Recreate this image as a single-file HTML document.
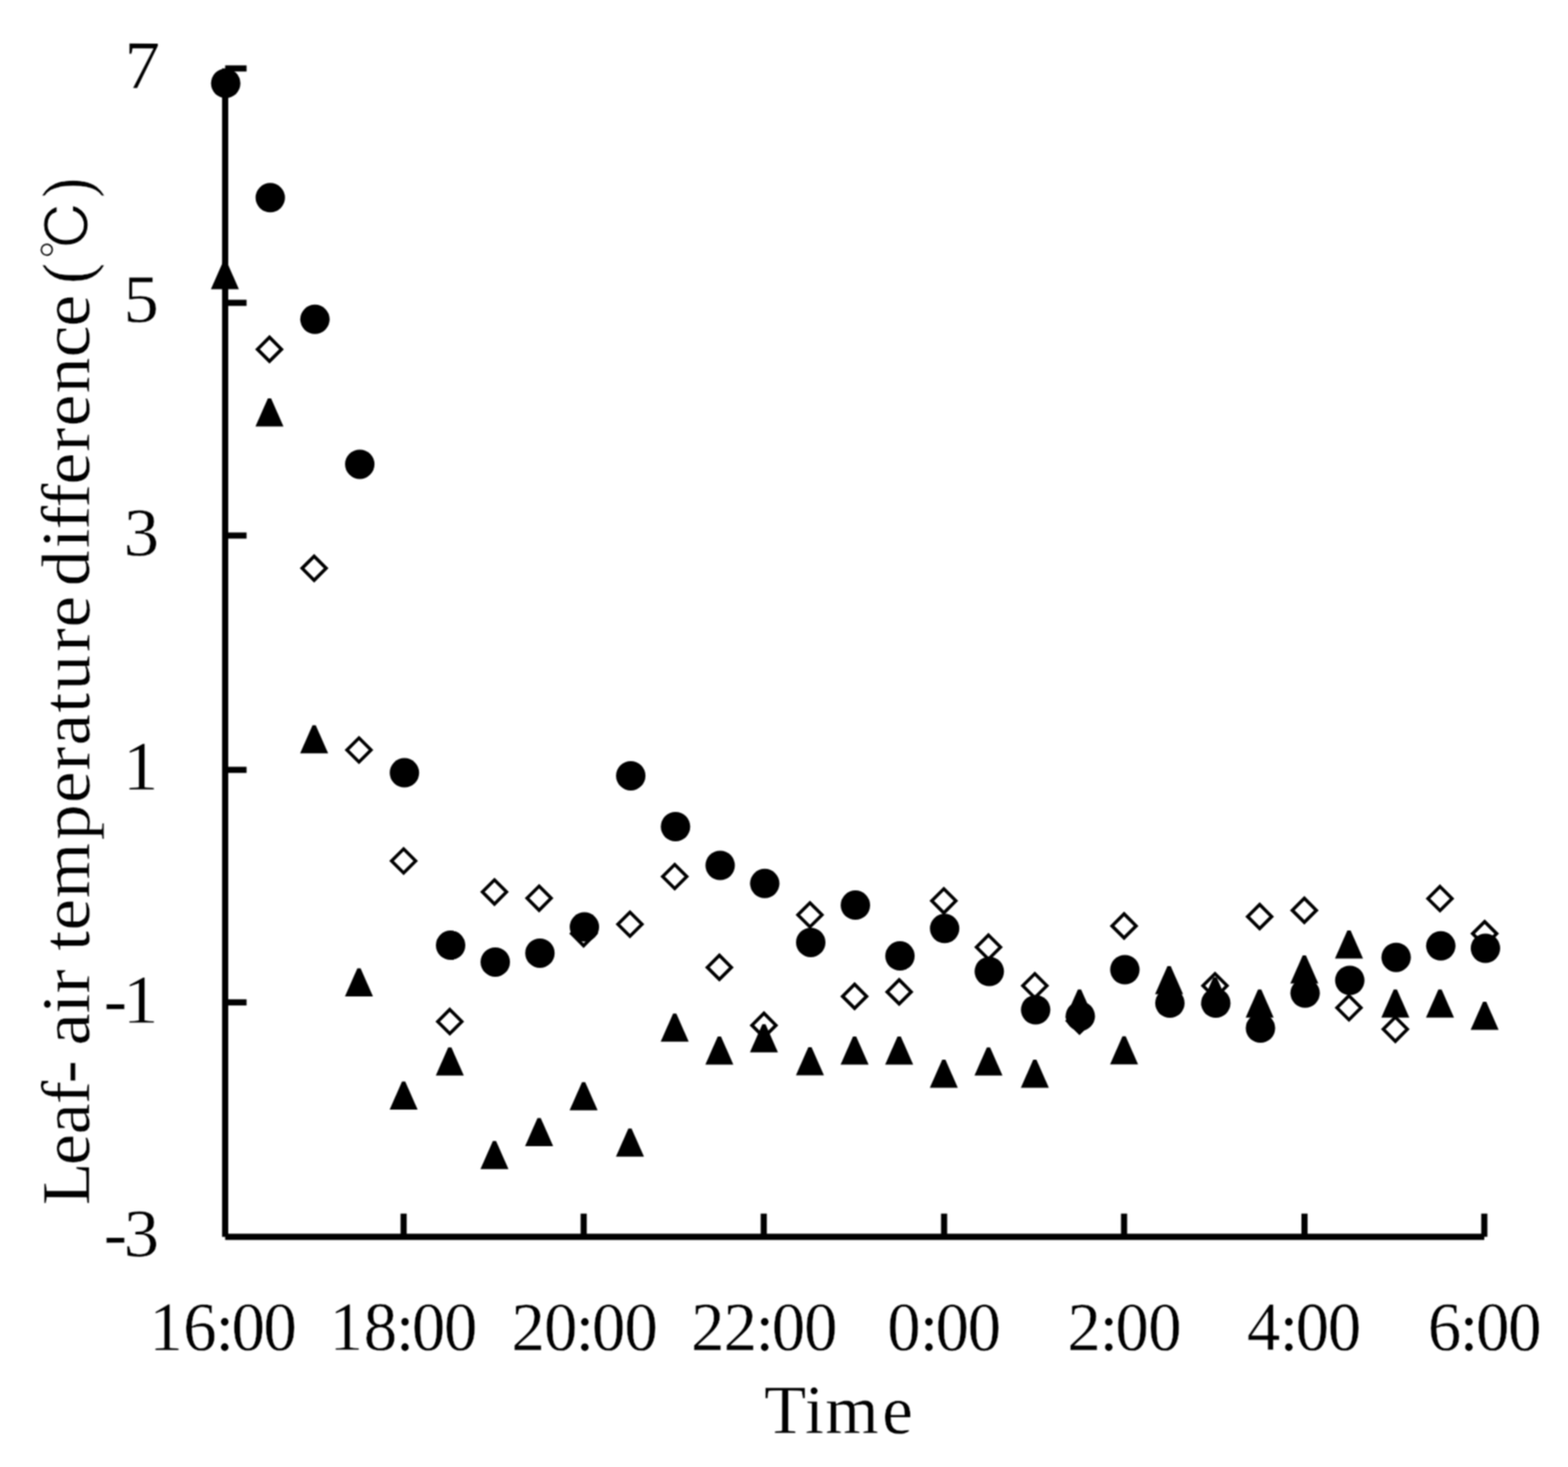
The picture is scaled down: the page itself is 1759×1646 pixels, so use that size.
<!DOCTYPE html>
<html lang="en"><head><meta charset="utf-8"><title>Leaf-air temperature difference</title>
<style>html,body{margin:0;padding:0;background:#fff}body{width:1759px;height:1646px;overflow:hidden}svg{display:block}text{font-family:"Liberation Serif",serif;fill:#000;font-kerning:none;font-variant-ligatures:none;text-rendering:geometricPrecision;stroke:#fff;stroke-width:0.4px}</style>
</head><body>
<svg width="1759" height="1646" viewBox="0 0 1759 1646">
<defs><filter id="soft" x="0" y="0" width="1759" height="1646" filterUnits="userSpaceOnUse" color-interpolation-filters="sRGB"><feConvolveMatrix order="3" kernelMatrix="1 2 1 2 4 2 1 2 1" divisor="16" edgeMode="duplicate" preserveAlpha="true"/></filter></defs>
<g filter="url(#soft)">
<rect width="1759" height="1646" fill="#fff"/>
<g id="axes" stroke="#000" stroke-width="6.9" fill="none">
<path d="M252.6 76.8 V1387.7"/>
<path d="M252.6 1387.7 H1665.1"/>
<path d="M252.6 76.8 H276.6"/>
<path d="M252.6 339.8 H276.6"/>
<path d="M252.6 600.9 H276.6"/>
<path d="M252.6 863.8 H276.6"/>
<path d="M252.6 1124.7 H276.6"/>
<path d="M452.8 1387.7 V1361.7"/>
<path d="M654.8 1387.7 V1361.7"/>
<path d="M856.8 1387.7 V1361.7"/>
<path d="M1059.1 1387.7 V1361.7"/>
<path d="M1261 1387.7 V1361.7"/>
<path d="M1463.4 1387.7 V1361.7"/>
<path d="M1665.1 1387.7 V1361.7"/>
</g>
<g id="diamonds" stroke="#000" stroke-width="3.7" fill="none" stroke-linejoin="miter">
<path d="M302.3 378.4 l13.5 13.5 l-13.5 13.5 l-13.5 -13.5z"/>
<path d="M352.4 624.1 l13.5 13.5 l-13.5 13.5 l-13.5 -13.5z"/>
<path d="M402.7 828 l13.5 13.5 l-13.5 13.5 l-13.5 -13.5z"/>
<path d="M452.8 952.5 l13.5 13.5 l-13.5 13.5 l-13.5 -13.5z"/>
<path d="M504.6 1132.7 l13.5 13.5 l-13.5 13.5 l-13.5 -13.5z"/>
<path d="M554.7 987.3 l13.5 13.5 l-13.5 13.5 l-13.5 -13.5z"/>
<path d="M604.8 994.3 l13.5 13.5 l-13.5 13.5 l-13.5 -13.5z"/>
<path d="M654.7 1034.1 l13.5 13.5 l-13.5 13.5 l-13.5 -13.5z"/>
<path d="M706.7 1023.5 l13.5 13.5 l-13.5 13.5 l-13.5 -13.5z"/>
<path d="M756.9 970 l13.5 13.5 l-13.5 13.5 l-13.5 -13.5z"/>
<path d="M807 1071.9 l13.5 13.5 l-13.5 13.5 l-13.5 -13.5z"/>
<path d="M857 1136.9 l13.5 13.5 l-13.5 13.5 l-13.5 -13.5z"/>
<path d="M908.6 1013 l13.5 13.5 l-13.5 13.5 l-13.5 -13.5z"/>
<path d="M958.7 1104.4 l13.5 13.5 l-13.5 13.5 l-13.5 -13.5z"/>
<path d="M1008.7 1099.4 l13.5 13.5 l-13.5 13.5 l-13.5 -13.5z"/>
<path d="M1058.8 997.3 l13.5 13.5 l-13.5 13.5 l-13.5 -13.5z"/>
<path d="M1108.9 1049.2 l13.5 13.5 l-13.5 13.5 l-13.5 -13.5z"/>
<path d="M1160.9 1092.5 l13.5 13.5 l-13.5 13.5 l-13.5 -13.5z"/>
<path d="M1211 1132 l13.5 13.5 l-13.5 13.5 l-13.5 -13.5z"/>
<path d="M1261 1025.4 l13.5 13.5 l-13.5 13.5 l-13.5 -13.5z"/>
<path d="M1363 1092.5 l13.5 13.5 l-13.5 13.5 l-13.5 -13.5z"/>
<path d="M1413.1 1014.9 l13.5 13.5 l-13.5 13.5 l-13.5 -13.5z"/>
<path d="M1463.2 1007.9 l13.5 13.5 l-13.5 13.5 l-13.5 -13.5z"/>
<path d="M1513.3 1117.2 l13.5 13.5 l-13.5 13.5 l-13.5 -13.5z"/>
<path d="M1565.3 1141.3 l13.5 13.5 l-13.5 13.5 l-13.5 -13.5z"/>
<path d="M1615.4 994.7 l13.5 13.5 l-13.5 13.5 l-13.5 -13.5z"/>
<path d="M1665.5 1034.1 l13.5 13.5 l-13.5 13.5 l-13.5 -13.5z"/>
</g>
<g id="triangles" fill="#000">
<path d="M250.5 293 h3.6 l13.9 31.5 h-31.4z"/>
<path d="M300.5 447 h3.6 l13.9 31.5 h-31.4z"/>
<path d="M350.6 813.7 h3.6 l13.9 31.5 h-31.4z"/>
<path d="M400.9 1086.6 h3.6 l13.9 31.5 h-31.4z"/>
<path d="M451 1213.4 h3.6 l13.9 31.5 h-31.4z"/>
<path d="M502.8 1175.3 h3.6 l13.9 31.5 h-31.4z"/>
<path d="M552.9 1280.2 h3.6 l13.9 31.5 h-31.4z"/>
<path d="M603 1254.4 h3.6 l13.9 31.5 h-31.4z"/>
<path d="M652.9 1214.3 h3.6 l13.9 31.5 h-31.4z"/>
<path d="M704.9 1266.3 h3.6 l13.9 31.5 h-31.4z"/>
<path d="M755.1 1137.2 h3.6 l13.9 31.5 h-31.4z"/>
<path d="M805.2 1163 h3.6 l13.9 31.5 h-31.4z"/>
<path d="M855.2 1149.2 h3.6 l13.9 31.5 h-31.4z"/>
<path d="M906.8 1175 h3.6 l13.9 31.5 h-31.4z"/>
<path d="M956.9 1163 h3.6 l13.9 31.5 h-31.4z"/>
<path d="M1006.9 1163 h3.6 l13.9 31.5 h-31.4z"/>
<path d="M1057 1189.1 h3.6 l13.9 31.5 h-31.4z"/>
<path d="M1107.1 1175.3 h3.6 l13.9 31.5 h-31.4z"/>
<path d="M1159.1 1189.1 h3.6 l13.9 31.5 h-31.4z"/>
<path d="M1209.2 1110.2 h3.6 l13.9 31.5 h-31.4z"/>
<path d="M1259.2 1162.8 h3.6 l13.9 31.5 h-31.4z"/>
<path d="M1309.7 1083.9 h3.6 l13.9 31.5 h-31.4z"/>
<path d="M1361.2 1096.4 h3.6 l13.9 31.5 h-31.4z"/>
<path d="M1411.3 1110.2 h3.6 l13.9 31.5 h-31.4z"/>
<path d="M1461.4 1072 h3.6 l13.9 31.5 h-31.4z"/>
<path d="M1511.5 1043.9 h3.6 l13.9 31.5 h-31.4z"/>
<path d="M1563.5 1110.2 h3.6 l13.9 31.5 h-31.4z"/>
<path d="M1613.6 1110.2 h3.6 l13.9 31.5 h-31.4z"/>
<path d="M1663.7 1124 h3.6 l13.9 31.5 h-31.4z"/>
</g>
<g id="circles" fill="#000">
<circle cx="253.2" cy="93.5" r="16.5"/>
<circle cx="303.2" cy="221.8" r="16.5"/>
<circle cx="353.3" cy="358.3" r="16.5"/>
<circle cx="403.6" cy="520.9" r="16.5"/>
<circle cx="453.7" cy="867.1" r="16.5"/>
<circle cx="505.5" cy="1060.6" r="16.5"/>
<circle cx="555.6" cy="1079.4" r="16.5"/>
<circle cx="605.7" cy="1069.4" r="16.5"/>
<circle cx="655.6" cy="1040.1" r="16.5"/>
<circle cx="707.6" cy="870.4" r="16.5"/>
<circle cx="757.8" cy="927.5" r="16.5"/>
<circle cx="807.9" cy="971" r="16.5"/>
<circle cx="857.9" cy="991.3" r="16.5"/>
<circle cx="909.5" cy="1057.4" r="16.5"/>
<circle cx="959.6" cy="1015.6" r="16.5"/>
<circle cx="1009.6" cy="1072.6" r="16.5"/>
<circle cx="1059.7" cy="1041.8" r="16.5"/>
<circle cx="1109.8" cy="1090" r="16.5"/>
<circle cx="1161.8" cy="1133" r="16.5"/>
<circle cx="1211.9" cy="1140.2" r="16.5"/>
<circle cx="1261.9" cy="1088" r="16.5"/>
<circle cx="1312.4" cy="1125.5" r="16.5"/>
<circle cx="1363.9" cy="1125.5" r="16.5"/>
<circle cx="1414" cy="1153.6" r="16.5"/>
<circle cx="1464.1" cy="1114.3" r="16.5"/>
<circle cx="1514.2" cy="1100" r="16.5"/>
<circle cx="1566.2" cy="1074.2" r="16.5"/>
<circle cx="1616.3" cy="1061.3" r="16.5"/>
<circle cx="1666.4" cy="1064" r="16.5"/>
</g>
<g id="xlabels">
<g transform="translate(252.10 1489.32) rotate(0.05) scale(1.0000 1.0115) translate(-252.10 -1489.70)"><text transform="translate(0 1515.10) scale(0.9740 1)" font-size="77" x="171.93 211.04 248.21 266.68 303.49">16:00</text></g>
<g transform="translate(454.65 1489.24) rotate(0.05) scale(1.0000 1.0106) translate(-454.65 -1489.70)"><text transform="translate(0 1515.10) scale(0.9740 1)" font-size="77" x="379.63 418.94 455.91 474.38 511.45">18:00</text></g>
<g transform="translate(655.50 1489.47) rotate(0.05) scale(1.0000 1.0067) translate(-655.50 -1489.70)"><text transform="translate(0 1515.10) scale(0.9740 1)" font-size="77" x="589.09 626.64 662.99 681.78 719.15">20:00</text></g>
<g transform="translate(857.25 1489.32) rotate(0.05) scale(1.0000 1.0107) translate(-857.25 -1489.70)"><text transform="translate(0 1515.10) scale(0.9740 1)" font-size="77" x="795.92 833.54 870.23 888.86 926.13">22:00</text></g>
<g transform="translate(1059.20 1489.46) rotate(0.05) scale(1.0000 1.0113) translate(-1059.20 -1489.70)"><text transform="translate(0 1515.10) scale(0.9740 1)" font-size="77" x="1021.82 1059.25 1077.46 1114.63">0:00</text></g>
<g transform="translate(1260.95 1489.39) rotate(0.05) scale(1.0000 1.0062) translate(-1260.95 -1489.70)"><text transform="translate(0 1515.10) scale(0.9740 1)" font-size="77" x="1229.39 1266.43 1284.65 1322.33">2:00</text></g>
<g transform="translate(1462.65 1489.27) rotate(0.05) scale(1.0000 1.0092) translate(-1462.65 -1489.70)"><text transform="translate(0 1515.10) scale(0.9740 1)" font-size="77" x="1436.14 1473.98 1492.35 1529.42">4:00</text></g>
<g transform="translate(1665.75 1489.30) rotate(0.05) scale(1.0000 1.0166) translate(-1665.75 -1489.70)"><text transform="translate(0 1515.10) scale(0.9740 1)" font-size="77" x="1644.51 1681.22 1699.95 1736.96">6:00</text></g>
</g>
<g id="ylabels">
<g transform="translate(161.00 74.40) rotate(0.05) scale(1.0000 0.9954) translate(-161.00 -74.10)"><text transform="translate(0 98.90) scale(1.0300 1)" font-size="77" x="135.63">7</text></g>
<g transform="translate(159.05 337.00) rotate(0.05) scale(1.0000 0.9940) translate(-159.05 -336.60)"><text transform="translate(0 361.00) scale(1.0300 1)" font-size="77" x="134.43">5</text></g>
<g transform="translate(159.05 598.69) rotate(0.05) scale(1.0000 0.9941) translate(-159.05 -598.05)"><text transform="translate(0 622.70) scale(1.0300 1)" font-size="77" x="134.83">3</text></g>
<g transform="translate(158.85 860.24) rotate(0.05) scale(1.0000 1.0157) translate(-158.85 -860.20)"><text transform="translate(0 885.60) scale(1.0300 1)" font-size="77" x="133.90">1</text></g>
<g transform="translate(145.80 1122.61) rotate(0.05) scale(1.0000 1.0037) translate(-145.80 -1122.20)"><text transform="translate(0 1147.30) scale(1.0300 1)" font-size="77" x="112.97 133.90">-1</text></g>
<g transform="translate(147.40 1385.03) rotate(0.05) scale(1.0000 0.9896) translate(-147.40 -1384.65)"><text transform="translate(0 1409.30) scale(1.0300 1)" font-size="77" x="112.97 134.83">-3</text></g>
</g>
<g id="xtitle">
<g transform="translate(941.10 1582.53) rotate(0.05) scale(1.0000 1.0116) translate(-941.10 -1582.70)"><text transform="translate(0 1608.00) scale(1.0000 1)" font-size="77" x="857.23 903.13 925.80 989.89">Time</text></g>
</g>
<g id="ytitle">
<g transform="translate(73.90 1271.04) rotate(0.05) scale(1.0000 0.9893) translate(-73.70 -1270.90)"><text transform="translate(99.80 1349.10) rotate(-90) scale(1.0300 1)" font-size="77" x="-3.79 40.34 74.20 107.28 130.31">Leaf-</text></g>
<g transform="translate(76.51 1128.42) rotate(0.05) scale(1.0000 1.0282) translate(-76.25 -1129.10)"><text transform="translate(99.80 1169.60) rotate(-90) scale(1.0300 1)" font-size="77" x="-2.72 30.83 52.26">air</text></g>
<g transform="translate(78.40 868.65) rotate(0.05) scale(1.0000 1.0042) translate(-78.00 -868.40)"><text transform="translate(99.80 1065.10) rotate(-90) scale(1.0300 1)" font-size="77" x="-0.60 21.39 56.55 119.57 159.81 194.90 222.18 257.70 281.90 323.52 350.07">temperature</text></g>
<g transform="translate(73.86 495.28) rotate(0.05) scale(1.0000 1.0124) translate(-73.70 -494.10)"><text transform="translate(99.80 654.30) rotate(-90) scale(1.0300 1)" font-size="77" x="-0.24 40.51 60.66 84.43 109.15 144.61 171.54 207.25 246.04 278.98">difference</text></g>
<g transform="translate(83.10 306.17) rotate(0.05) scale(1.0007 1.0303) translate(-82.20 -306.30)"><text transform="translate(99.80 317.98) rotate(-90) scale(0.8798 1)" font-size="77">(</text></g>
<g transform="translate(71.90 259.06) rotate(0.05) scale(1.0332 1.0440) translate(-72.05 -259.35)"><text transform="translate(100.20 290.30) rotate(-90)" font-size="65.6" style="font-family:'IPAGothic','Noto Sans CJK JP','Liberation Serif',sans-serif;stroke-width:1.2px">℃</text></g>
<g transform="translate(82.96 211.14) rotate(0.05) scale(1.0059 1.0398) translate(-82.20 -211.20)"><text transform="translate(99.80 221.46) rotate(-90) scale(0.8293 1)" font-size="77">)</text></g>
</g>
</g>
</svg></body></html>
